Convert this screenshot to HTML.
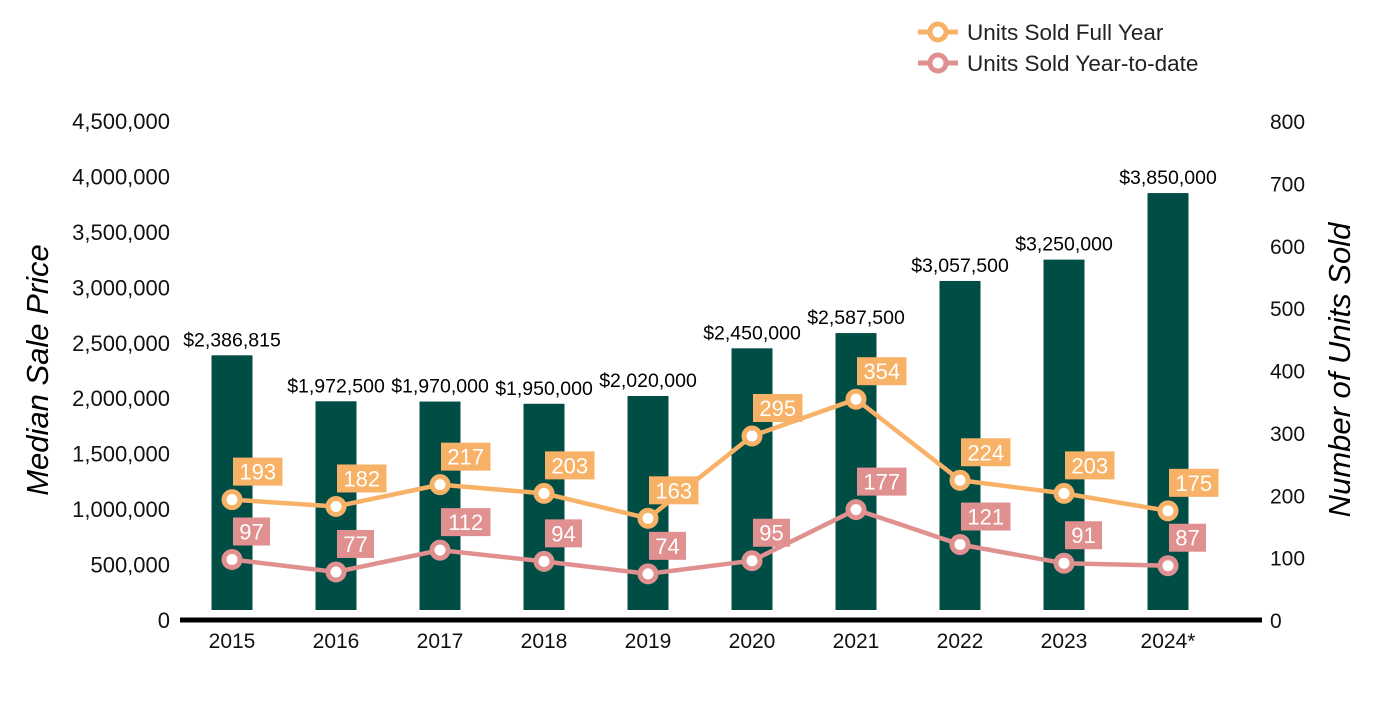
<!DOCTYPE html>
<html><head><meta charset="utf-8"><style>
body{margin:0;background:#fff;}
svg text{font-family:"Liberation Sans",Arial,sans-serif;}
</style></head><body>
<svg id="chart" width="1400" height="700" viewBox="0 0 1400 700" xmlns="http://www.w3.org/2000/svg">
<g id="legend">
<g>
<line x1="918" y1="32" x2="958" y2="32" stroke="#F7B267" stroke-width="5"/>
<circle cx="938" cy="32" r="8" fill="#fff" stroke="#F7B267" stroke-width="5"/>
<text x="967" y="40" font-size="22.5" fill="#222">Units Sold Full Year</text></g>
<g>
<line x1="918" y1="63" x2="958" y2="63" stroke="#E0908F" stroke-width="5"/>
<circle cx="938" cy="63" r="8" fill="#fff" stroke="#E0908F" stroke-width="5"/>
<text x="967" y="71" font-size="22.5" fill="#222">Units Sold Year-to-date</text></g>
</g>
<text transform="translate(48,370) rotate(-90)" text-anchor="middle" font-size="31" font-style="italic" fill="#000">Median Sale Price</text>
<text transform="translate(1350,370) rotate(-90)" text-anchor="middle" font-size="31" font-style="italic" fill="#000">Number of Units Sold</text>
<g id="g"></g>
</svg>
<script>
const categories=["2015","2016","2017","2018","2019","2020","2021","2022","2023","2024*"];
const prices=[2386815,1972500,1970000,1950000,2020000,2450000,2587500,3057500,3250000,3850000];
const priceLabels=["$2,386,815","$1,972,500","$1,970,000","$1,950,000","$2,020,000","$2,450,000","$2,587,500","$3,057,500","$3,250,000","$3,850,000"];
const fullYear=[193,182,217,203,163,295,354,224,203,175];
const ytd=[97,77,112,94,74,95,177,121,91,87];
const leftTicks=[0,500000,1000000,1500000,2000000,2500000,3000000,3500000,4000000,4500000];
const rightTicks=[0,100,200,300,400,500,600,700,800];

const NS="http://www.w3.org/2000/svg";
const g=document.getElementById('g');
const y0=620, yTop=121;
const yL=v=>y0-v/4500000*(y0-yTop);
const yR=v=>y0-v/800*(y0-yTop);
const xC=i=>232+i*104;
function mk(t,a,p){const e=document.createElementNS(NS,t);for(const k in a)e.setAttribute(k,a[k]);(p||g).appendChild(e);return e;}

leftTicks.forEach(v=>{const t=mk('text',{x:170,y:yL(v)+8,'text-anchor':'end','font-size':22,fill:'#111'});t.textContent=v.toLocaleString('en-US');

});
rightTicks.forEach(v=>{const t=mk('text',{x:1270,y:yR(v)+8,'font-size':21,fill:'#111'});t.textContent=v;

});

categories.forEach((c,i)=>{
const top=yL(prices[i]);
const b=mk('rect',{x:xC(i)-20.5,y:top,width:41,height:610-top,fill:'#004D45'});


const t=mk('text',{x:xC(i),y:top-9,'text-anchor':'middle','font-size':19.5,fill:'#000'});t.textContent=priceLabels[i];


const xl=mk('text',{x:xC(i),y:648,'text-anchor':'middle','font-size':21,fill:'#111'});xl.textContent=c;


});
const ax=mk('line',{x1:180,y1:620,x2:1262,y2:620,stroke:'#000','stroke-width':5});



function series(vals,color,name){
const pl=mk('polyline',{points:vals.map((v,i)=>xC(i)+','+yR(v)).join(' '),fill:'none',stroke:color,'stroke-width':4.5});


vals.forEach((v,i)=>{
const x=xC(i),y=yR(v);
const c=mk('circle',{cx:x,cy:y,r:8,fill:'#fff',stroke:color,'stroke-width':5});


const w=String(v).length*12.5+12;
const r=mk('rect',{x:x+1,y:y-42,width:w,height:28,fill:color});


const t=mk('text',{x:x+1+w/2,y:y-20,'text-anchor':'middle','font-size':22,fill:'#fff'});t.textContent=v;


});}
series(fullYear,'#F7B267','full-year');
series(ytd,'#E0908F','ytd');
</script>
</body></html>
